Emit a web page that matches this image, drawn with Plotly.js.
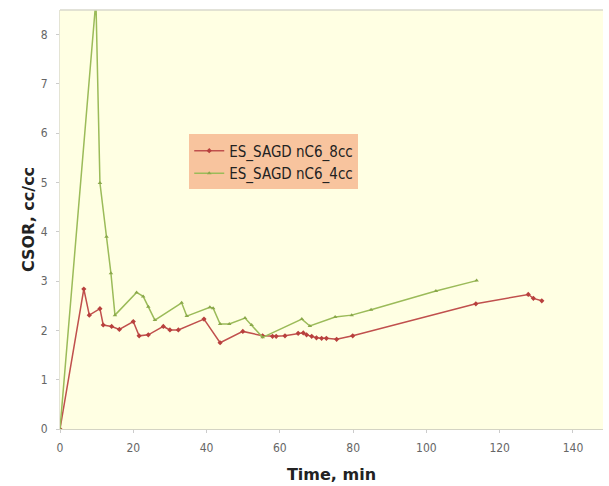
<!DOCTYPE html>
<html>
<head>
<meta charset="utf-8">
<script src="https://cdn.plot.ly/plotly-3.0.1.min.js"></script>
<style>html,body{margin:0;padding:0;background:#fff;}#chart{width:609px;height:486px;}</style>
</head>
<body>
<div id="chart"></div>
<script>
const time8cc = [0, 6.5, 8, 10.9, 11.8, 14.1, 16.2, 20, 21.6, 24.1, 28.2, 30, 32.3, 39.3, 43.7, 49.9, 55.3, 58, 59, 61.4, 65, 66.4, 67.3, 68.7, 70, 71.4, 72.7, 75.5, 79.9, 113.5, 127.8, 129.2, 131.5];
const csor8cc = [0, 2.84, 2.31, 2.44, 2.11, 2.08, 2.02, 2.18, 1.89, 1.91, 2.08, 2.01, 2.01, 2.23, 1.75, 1.98, 1.89, 1.88, 1.88, 1.89, 1.94, 1.95, 1.91, 1.88, 1.85, 1.84, 1.84, 1.82, 1.89, 2.54, 2.73, 2.65, 2.6];
const time4cc = [0, 9.8, 10.9, 12.7, 13.9, 15, 20.9, 22.7, 24.1, 25.9, 33.2, 34.6, 40.9, 41.8, 43.7, 46.2, 50.5, 52.3, 55.3, 66, 68.2, 75.1, 79.6, 84.9, 102.6, 113.7];
const csor4cc = [0, 8.7, 4.99, 3.9, 3.16, 2.31, 2.77, 2.69, 2.48, 2.21, 2.56, 2.29, 2.47, 2.45, 2.13, 2.13, 2.25, 2.11, 1.86, 2.23, 2.09, 2.27, 2.31, 2.42, 2.8, 3.01];
const seriesNames = ['ES_SAGD nC6_8cc', 'ES_SAGD nC6_4cc'];
const xTicks = [0, 20, 40, 60, 80, 100, 120, 140];
const yTicks = [0, 1, 2, 3, 4, 5, 6, 7, 8];

const traces = [
  {x: time8cc, y: csor8cc, name: seriesNames[0], mode: 'lines+markers',
   line: {color: '#c0504d', width: 1.5}, marker: {color: '#b8403d', size: 4, symbol: 'diamond'}},
  {x: time4cc, y: csor4cc, name: seriesNames[1], mode: 'lines+markers',
   line: {color: '#9bbb59', width: 1.5}, marker: {color: '#8aa84a', size: 4, symbol: 'triangle-up'}}
];
const layout = {
  width: 609, height: 486,
  margin: {l: 60, r: 6, t: 10, b: 57},
  paper_bgcolor: '#ffffff',
  plot_bgcolor: '#ffffe3',
  font: {family: 'DejaVu Sans Condensed, Liberation Sans, sans-serif', color: '#555'},
  showlegend: true,
  legend: {x: 0.238, y: 0.703, xanchor: 'left', yanchor: 'top', bgcolor: '#f8c49e',
           font: {size: 15, color: '#222', family: 'DejaVu Sans Condensed, sans-serif'},
           itemwidth: 30, tracegroupgap: 0},
  xaxis: {range: [0, 148.2], tickvals: xTicks, showgrid: false, zeroline: false,
          showline: true, linecolor: '#d4d4c4', linewidth: 1, mirror: false,
          ticks: 'outside', ticklen: 3, tickcolor: '#ccc', ticklabelstandoff: 5,
          tickfont: {size: 12, color: '#666'},
          title: {text: 'Time, min', font: {size: 16, color: '#222', family: 'DejaVu Sans, sans-serif', weight: 'bold'}, standoff: 14}},
  yaxis: {range: [0, 8.5], tickvals: yTicks, showgrid: false, zeroline: false,
          showline: true, linecolor: '#e4e4d4', linewidth: 1,
          ticks: 'outside', ticklen: 3, tickcolor: '#ccc', ticklabelstandoff: 6,
          tickfont: {size: 12, color: '#666'},
          title: {text: 'CSOR, cc/cc', font: {size: 16, color: '#222', family: 'DejaVu Sans, sans-serif', weight: 'bold'}, standoff: 2}},
  shapes: [{type: 'line', xref: 'paper', yref: 'paper', x0: 0, x1: 1, y0: 1, y1: 1, line: {color: '#d8d8cc', width: 1.5}}]
};
Plotly.newPlot('chart', traces, layout, {displayModeBar: false, staticPlot: true});
</script>
</body>
</html>
